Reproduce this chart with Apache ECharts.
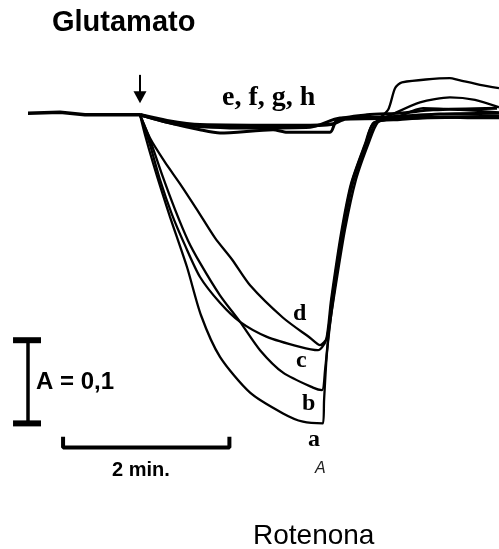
<!DOCTYPE html>
<html>
<head>
<meta charset="utf-8">
<script src="https://cdn.jsdelivr.net/npm/echarts@6/dist/echarts.min.js"></script>
<style>
  html, body { margin: 0; padding: 0; background: #fff; }
  #chart { width: 499px; height: 549px; }
</style>
</head>
<body>
<div id="chart"></div>
<script>
// Absorbance traces after glutamate + rotenone; time in s (0 = addition), ΔA in absorbance units.
const baseline = [[-79.8, 0.002], [-56.7, 0.003], [-38.7, 0.0], [1.0, 0.0]];

const traceA = [[1.0, 0], [4.6, -0.024], [10.4, -0.058], [16.9, -0.093], [22.7, -0.123], [34.9, -0.183],
  [45.0, -0.241], [58.7, -0.291], [80.4, -0.334], [104.2, -0.359], [118.6, -0.369], [133.0, -0.371],
  [133.8, -0.343], [135.9, -0.286], [140.3, -0.223], [147.5, -0.142], [154.7, -0.082], [164.8, -0.034],
  [170.6, -0.010], [180.0, 0.006], [185.0, 0.032], [190.0, 0.039], [224.6, 0.044], [230.4, 0.042],
  [246.3, 0.036], [260, 0.032]];

const traceB = [[1.0, 0], [8.2, -0.030], [16.9, -0.072], [26.3, -0.114], [35.6, -0.151], [44.3, -0.178],
  [58.7, -0.217], [73.2, -0.249], [87.6, -0.283], [104.2, -0.310], [125.8, -0.328], [132.3, -0.331],
  [134.5, -0.307], [137.4, -0.259], [141.7, -0.211], [148.9, -0.138], [156.8, -0.078], [166.2, -0.033],
  [172.7, -0.009], [185.0, 0.002], [203.0, 0.015], [224.6, 0.021], [242.7, 0.018], [260, 0.009]];

const traceC = [[1.0, 0], [8.2, -0.036], [15.4, -0.078], [24.1, -0.120], [33.5, -0.157], [44.3, -0.195],
  [58.7, -0.226], [73.2, -0.249], [92.6, -0.267], [116.4, -0.279], [129.4, -0.283], [135.2, -0.271],
  [138.8, -0.223], [146.0, -0.143], [153.2, -0.083], [163.3, -0.035], [169.1, -0.011], [185.0, -0.004],
  [205.2, 0.008], [231.8, 0.006], [260, 0.003]];

const traceD = [[1.0, 0], [8.2, -0.028], [19.0, -0.057], [29.9, -0.083], [42.1, -0.114], [55.1, -0.148],
  [67.4, -0.174], [80.4, -0.205], [104.2, -0.244], [123.6, -0.268], [130.9, -0.277], [135.9, -0.268],
  [139.5, -0.220], [146.7, -0.141], [153.9, -0.081], [164.1, -0.033], [169.8, -0.009], [188.6, -0.006],
  [217.4, -0.003], [239.1, -0.004], [260, -0.004]];

// Controls e–h stay near the baseline
const traceE = [[1.0, 0], [20.5, -0.007], [44.3, -0.012], [116.4, -0.013], [140.3, -0.011],
  [148.9, -0.005], [188.6, -0.004], [260, -0.002]];
const traceF = [[1.0, 0], [20.5, -0.009], [44.3, -0.018], [58.7, -0.022], [97.0, -0.018], [107.1, -0.021],
  [138.1, -0.021], [143.1, -0.006], [164.8, 0], [188.6, 0.002], [212.4, 0.006], [258.6, 0.008]];
const traceG = [[1.0, 0], [29.9, -0.012], [80.4, -0.016], [123.7, -0.015], [145.3, -0.004],
  [174.2, -0.003], [217.4, 0.001], [260, 0.002]];

// Addition arrow and scale bars (data units)
const arrow = [[1.0, 0.048], [1.0, 0.021]];
const absBar = { t: -79.8, from: -0.371, to: -0.271, capFrom: -90.6, capTo: -70.4 };
const timeBar = { from: -54.5, to: 65.5, level: -0.400, tickTop: -0.387 };

const lineStyle = (w) => ({ color: '#000', width: w });
const trace = (data, w) => ({
  type: 'line', data: data, smooth: 0.25, symbol: 'none',
  lineStyle: lineStyle(w), z: 3
});
const bar = (data, w) => ({
  type: 'line', data: data, symbol: 'none', lineStyle: { color: '#000', width: w, cap: 'butt' }
});

const chart = echarts.init(document.getElementById('chart'));
chart.setOption({
  animation: false,
  grid: { left: 0, right: 0, top: 0, bottom: 0 },
  xAxis: { type: 'value', min: -100, max: 260, show: false },
  yAxis: { type: 'value', min: -0.522, max: 0.138, show: false },
  series: [
    { type: 'line', data: baseline, symbol: 'none', lineStyle: lineStyle(3.5), z: 3 },
    trace(traceE, 3.5), trace(traceF, 3), trace(traceG, 3),
    trace(traceA, 2.3), trace(traceB, 2.3), trace(traceC, 2.3), trace(traceD, 2.3),
    {
      type: 'line', symbol: 'none', lineStyle: lineStyle(2),
      data: [
        { value: arrow[0], symbol: 'none' },
        { value: arrow[1], symbol: 'triangle', symbolSize: [13, 12], symbolRotate: 180,
          itemStyle: { color: '#000' } }
      ],
      showSymbol: true
    },
    bar([[absBar.t, absBar.from], [absBar.t, absBar.to]], 3.5),
    bar([[absBar.capFrom, absBar.to], [absBar.capTo, absBar.to]], 6),
    bar([[absBar.capFrom, absBar.from], [absBar.capTo, absBar.from]], 6),
    bar([[timeBar.from, timeBar.tickTop], [timeBar.from, timeBar.level],
         [timeBar.to, timeBar.level], [timeBar.to, timeBar.tickTop]], 4)
  ],
  graphic: [
    { type: 'text', left: 52, top: 8, style: { text: 'Glutamato', font: 'bold 29px "Liberation Sans", Arial, sans-serif', fill: '#000' } },
    { type: 'text', left: 222, top: 84, style: { text: 'e, f, g, h', font: 'bold 28px "Liberation Serif", "Times New Roman", serif', fill: '#000' } },
    { type: 'text', left: 293, top: 302, style: { text: 'd', font: 'bold 24px "Liberation Serif", serif', fill: '#000' } },
    { type: 'text', left: 296, top: 349, style: { text: 'c', font: 'bold 24px "Liberation Serif", serif', fill: '#000' } },
    { type: 'text', left: 302, top: 392, style: { text: 'b', font: 'bold 24px "Liberation Serif", serif', fill: '#000' } },
    { type: 'text', left: 308, top: 428, style: { text: 'a', font: 'bold 24px "Liberation Serif", serif', fill: '#000' } },
    { type: 'text', left: 36, top: 370, style: { text: 'A = 0,1', font: 'bold 24px "Liberation Sans", Arial, sans-serif', fill: '#000' } },
    { type: 'text', left: 112, top: 460, style: { text: '2 min.', font: 'bold 20px "Liberation Sans", Arial, sans-serif', fill: '#000' } },
    { type: 'text', left: 315, top: 461, style: { text: 'A', font: 'italic 16px "Liberation Sans", Arial, sans-serif', fill: '#222' } },
    { type: 'text', left: 253, top: 522, style: { text: 'Rotenona', font: '28px "Liberation Sans", Arial, sans-serif', fill: '#000' } }
  ]
});
</script>
</body>
</html>
